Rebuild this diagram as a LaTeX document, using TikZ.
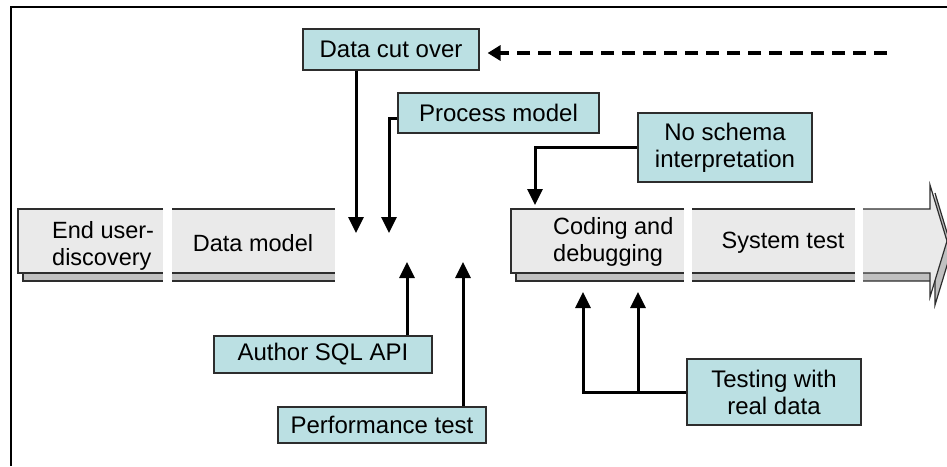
\documentclass[tikz,border=0pt]{standalone}
\usepackage{fontspec}
\setmainfont{Liberation Sans}
\usetikzlibrary{arrows.meta,calc}
\definecolor{tealfill}{RGB}{187,224,227}
\definecolor{barfill}{RGB}{234,234,234}
\definecolor{barshadow}{RGB}{192,192,192}
\definecolor{edgegray}{RGB}{45,45,45}
\begin{document}
\begin{tikzpicture}[x=1pt,y=-1pt,
  tealbox/.style={draw=edgegray,fill=tealfill,line width=1.2pt,inner sep=0pt,
    font=\fontsize{24}{27}\selectfont,align=center},
  bartext/.style={font=\fontsize{23.5}{27}\selectfont,inner sep=0pt,align=left},
  conn/.style={line width=3pt,-{Triangle[length=16pt,width=15pt]}},
  barline/.style={draw=edgegray,line width=1.2pt},
  shadowfill/.style={fill=barshadow},
  mainfill/.style={fill=barfill}
]
\useasboundingbox (0,0) rectangle (947,466);
% frame
\draw[line width=2.2pt] (11,466) -- (11,7) -- (947,7);

% ---- shadows of the process bar ----
\fill[shadowfill] (23,217) rectangle (163,281);
\draw[barline] (23,273) -- (23,281) -- (163,281);
\fill[shadowfill] (172,217) rectangle (335,281);
\draw[barline] (172,281) -- (335,281);
\fill[shadowfill] (516,217) rectangle (684,281);
\draw[barline] (516,273) -- (516,281) -- (684,281);
\fill[shadowfill] (692,217) rectangle (855,281);
\draw[barline] (692,281) -- (855,281);
\fill[shadowfill] (863,217) -- (935,217) -- (935,193) -- (952,249) -- (935,305) -- (935,281) -- (863,281) -- cycle;
\draw[barline] (935,193) -- (952,249) -- (935,305) -- (935,281) -- (863,281);

% ---- main pieces of the process bar ----
\fill[mainfill] (18,209) rectangle (163,273);
\draw[barline] (163,209) -- (18,209) -- (18,273) -- (163,273);
\fill[mainfill] (172,209) rectangle (335,273);
\draw[barline] (172,209) -- (335,209) (172,273) -- (335,273);
\fill[mainfill] (511,209) rectangle (684,273);
\draw[barline] (684,209) -- (511,209) -- (511,273) -- (684,273);
\fill[mainfill] (692,209) rectangle (855,273);
\draw[barline] (692,209) -- (855,209) (692,273) -- (855,273);
\fill[mainfill] (863,209) -- (930,209) -- (930,185) -- (947,241) -- (930,297) -- (930,273) -- (863,273) -- cycle;
\draw[barline] (863,209) -- (930,209) -- (930,185) -- (947,241) -- (930,297) -- (930,273) -- (863,273);

% ---- bar texts ----
\node[bartext,anchor=west] (enduser) at (52,246) {End user-\\discovery};
\node[bartext] (datamodel) at (253,243) {Data model};
\node[bartext,anchor=west] (coding) at (553,242) {Coding and\\debugging};
\node[bartext] (systest) at (783,243) {System test};

% ---- teal boxes ----
\node[tealbox,minimum width=176pt,minimum height=41pt] (cut) at (391,49.5) {Data cut over};
\node[tealbox,minimum width=201pt,minimum height=40pt] (proc) at (498.5,113) {Process model};
\node[tealbox,minimum width=174pt,minimum height=69pt] (nosch) at (725,147.5) {No schema\\interpretation};
\node[tealbox,minimum width=218pt,minimum height=37pt] (author) at (323,354.5) {Author SQL API};
\node[tealbox,minimum width=208pt,minimum height=36pt] (perf) at (382,425) {Performance test};
\node[tealbox,minimum width=174pt,minimum height=66pt] (testing) at (774,392) {Testing with\\real data};

% ---- connector ends ----
\coordinate (a1) at (356,233);
\coordinate (a2) at (389,233);
\coordinate (a3) at (535,205);
\coordinate (a4) at (407,262);
\coordinate (a5) at (463,262);
\coordinate (a6) at (583,292);
\coordinate (a7) at (638,292);
\coordinate (d0) at (887,53);

% ---- connectors ----
\draw[conn] (cut.south -| a1) -- (a1);
\draw[conn] ($(proc.west)+(0,5)$) -| (a2);
\draw[conn] (nosch.west) -| (a3);
\draw[conn] (author.north -| a4) -- (a4);
\draw[conn] (perf.north -| a5) -- (a5);
\draw[conn] (testing.west) -| (a6);
\draw[conn] (testing.west -| a7) -- (a7);
\draw[line width=3.5pt,dash pattern=on 13pt off 8pt,-{Triangle[length=13pt,width=15pt]}]
  (d0) -- ($(cut.east |- d0)+(8,0)$);
\end{tikzpicture}
\end{document}
